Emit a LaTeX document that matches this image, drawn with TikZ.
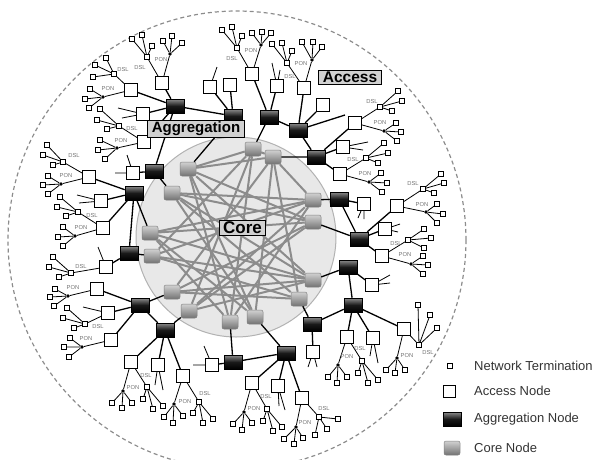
\documentclass[tikz,border=0pt]{standalone}
\usepackage{fontspec}
\setsansfont{Liberation Sans}
\pgfdeclarelayer{back}
\pgfdeclarelayer{bg}
\pgfsetlayers{back,bg,main}
\tikzset{
  acc/.style={draw, fill=white, minimum size=13pt, inner sep=0pt, line width=0.8pt},
  agg/.style={draw=black, minimum width=18pt, minimum height=14pt, inner sep=0pt, top color=black!45, bottom color=black, middle color=black!90, line width=0.5pt},
  corenode/.style={draw=black!50, rounded corners=2pt, minimum width=16pt, minimum height=14pt, inner sep=0pt, top color=black!18, bottom color=black!55, line width=0.5pt},
  nt/.style={draw, fill=white, minimum size=4.5pt, inner sep=0pt, line width=0.55pt},
  dslbox/.style={draw, fill=white, minimum size=5.5pt, inner sep=0pt, line width=0.55pt},
  pondot/.style={circle, fill=black, minimum size=3.8pt, inner sep=0pt},
  tag/.style={font=\sffamily\fontsize{5.8}{6}\selectfont, text=black!55, inner sep=0pt},
  tl/.style={line width=0.8pt},
  al/.style={line width=1.3pt},
  mesh/.style={line width=2pt, draw=black!45},
  bigtag/.style={draw=black, line width=0.8pt, fill=black!18, font=\sffamily\bfseries\fontsize{#1}{#1}\selectfont, inner xsep=4pt, inner ysep=1.5pt},
  legtext/.style={anchor=west, font=\sffamily\fontsize{13}{15}\selectfont, text=black!80, inner sep=0pt}
}
\newcommand\ntfan[4]{%
  \node[nt] (#1a) at #2 {}; \node[nt] (#1b) at #3 {}; \node[nt] (#1c) at #4 {};
  \draw[tl] (#1) -- (#1a) (#1) -- (#1b) (#1) -- (#1c);}
\newcommand\dslat[4]{%
  \node[dslbox] (#1) at #2 {}; \draw[tl] (#3) -- (#1); \node[tag] (#1t) at #4 {DSL};}
\newcommand\ponat[4]{%
  \node[pondot] (#1) at #2 {}; \draw[tl] (#3) -- (#1); \node[tag] (#1t) at #4 {PON};}
\begin{document}
\begin{tikzpicture}[x=1pt,y=-1pt]
\useasboundingbox (0,0) rectangle (603,459);
\begin{pgfonlayer}{back}
  \fill[black!9] (236,237) circle[radius=100];
  \draw[black!30, line width=1pt] (236,237) circle[radius=100];
  \begin{scope}
    \clip (0,0) rectangle (603,459);
    \draw[black!45, line width=1.2pt, dash pattern=on 4pt off 3pt] (237,240) circle[radius=229];
  \end{scope}
\end{pgfonlayer}

% core nodes
\node[corenode] (c1) at (253,149) {};
\node[corenode] (c2) at (273,157) {};
\node[corenode] (c3) at (188,169) {};
\node[corenode] (c4) at (172,193) {};
\node[corenode] (c5) at (313,200) {};
\node[corenode] (c6) at (313,222) {};
\node[corenode] (c7) at (150,233) {};
\node[corenode] (c8) at (152,256) {};
\node[corenode] (c9) at (313,280) {};
\node[corenode] (c10) at (299,299) {};
\node[corenode] (c11) at (172,292) {};
\node[corenode] (c12) at (189,311) {};
\node[corenode] (c13) at (230,322) {};
\node[corenode] (c14) at (255,317) {};

\begin{pgfonlayer}{bg}
\foreach \a/\b in {c1/c2, c1/c3, c2/c3, c1/c12, c1/c13, c1/c8, c2/c5, c2/c14, c2/c10, c2/c11,
  c3/c6, c3/c9, c3/c13, c4/c5, c4/c6, c4/c10, c4/c14, c5/c7, c5/c8, c5/c12, c6/c7, c6/c11,
  c7/c9, c7/c14, c8/c9, c8/c10, c9/c11, c9/c12, c10/c11, c13/c5, c13/c7, c14/c3, c6/c12, c4/c9}
  \draw[mesh] (\a) -- (\b);
\end{pgfonlayer}

% aggregation nodes
\node[agg] (g1) at (175,106) {};
\node[agg] (g2) at (233,116) {};
\node[agg] (g3) at (269,117) {};
\node[agg] (g4) at (298,130) {};
\node[agg] (g5) at (316,157) {};
\node[agg] (g6) at (154,171) {};
\node[agg] (g7) at (134,193) {};
\node[agg] (g8) at (129,253) {};
\node[agg] (g9) at (140,305) {};
\node[agg] (g10) at (165,330) {};
\node[agg] (g11) at (233,362) {};
\node[agg] (g12) at (286,353) {};
\node[agg] (g13) at (312,324) {};
\node[agg] (g14) at (353,305) {};
\node[agg] (g15) at (339,199) {};
\node[agg] (g16) at (359,239) {};
\node[agg] (g17) at (348,267) {};

\draw[al] (g1)--(g2) (g1)--(g6) (g2)--(c3) (g3)--(c1) (g3)--(g4) (g4)--(g5) (g5)--(c2)
  (g6)--(c4) (g7)--(c7) (g7)--(g8) (g8)--(c8) (g9)--(c11) (g9)--(g10) (g10)--(c12)
  (g11)--(c13) (g11)--(g12) (g12)--(c14) (g13)--(c10) (g13)--(g14) (g14)--(g17) (g17)--(c9)
  (g15)--(c5) (g15)--(g16) (g16)--(c6);

% access nodes
\node[acc] (x1) at (162,83) {};
\node[acc] (x2) at (131,90) {};
\node[acc] (x3) at (143,114) {};
\node[acc] (x4) at (144,142) {};
\node[acc] (x5) at (210,87) {};
\node[acc] (x6) at (230,85) {};
\node[acc] (x7) at (252,74) {};
\node[acc] (x8) at (277,86) {};
\node[acc] (x9) at (304,88) {};
\node[acc] (x10) at (323,105) {};
\node[acc] (x11) at (355,123) {};
\node[acc] (x12) at (343,147) {};
\node[acc] (x13) at (340,174) {};
\node[acc] (x14) at (364,204) {};
\node[acc] (x15) at (397,206) {};
\node[acc] (x16) at (385,229) {};
\node[acc] (x17) at (382,256) {};
\node[acc] (x18) at (372,285) {};
\node[acc] (x19) at (347,337) {};
\node[acc] (x20) at (373,338) {};
\node[acc] (x21) at (404,329) {};
\node[acc] (x22) at (313,352) {};
\node[acc] (x23) at (252,383) {};
\node[acc] (x24) at (278,386) {};
\node[acc] (x25) at (302,398) {};
\node[acc] (x26) at (212,365) {};
\node[acc] (x27) at (131,362) {};
\node[acc] (x28) at (158,365) {};
\node[acc] (x29) at (183,376) {};
\node[acc] (x30) at (97,289) {};
\node[acc] (x31) at (108,313) {};
\node[acc] (x32) at (111,340) {};
\node[acc] (x33) at (106,267) {};
\node[acc] (x34) at (89,177) {};
\node[acc] (x35) at (101,201) {};
\node[acc] (x36) at (103,228) {};
\node[acc] (x37) at (133,173) {};

\draw[al] (g1)--(x1) (g1)--(x2) (g1)--(x3) (g1)--(x4) (g2)--(x5) (g2)--(x6)
  (g3)--(x7) (g3)--(x8) (g4)--(x9) (g4)--(x10) (g4)-- +(47,-15)
  (g5)--(x11) (g5)--(x12) (g5)--(x13) (g15)--(x14) (g16)--(x15) (g16)--(x16) (g16)--(x17)
  (g17)--(x18) (g14)--(x19) (g14)--(x20) (g14)--(x21) (g13)--(x22)
  (g12)--(x23) (g12)--(x24) (g12)--(x25) (g11)--(x26) (g10)--(x27) (g10)--(x28) (g10)--(x29)
  (g9)--(x30) (g9)--(x31) (g9)--(x32) (g8)--(x33) (g7)--(x34) (g7)--(x35) (g7)--(x36) (g6)--(x37);

% stubs
\draw[tl] (x3) -- +(-25,-6) (x3) -- +(-21,4)
  (x35) -- +(-24,-6) (x35) -- +(-22,2)
  (x37) -- +(-6,-18) (x37) -- +(-18,0)
  (x33) -- +(-8,-20) (x31) -- +(-25,-6)
  (x28) -- +(5,25) (x28) -- +(-3,20)
  (x26) -- +(-19,0) (x26) -- +(-8,-19)
  (x24) -- +(7,24) (x24) -- +(1,20)
  (x22) -- +(-5,15) (x22) -- +(4,15)
  (x20) -- +(5,25) (x20) -- +(-3,18)
  (x18) -- +(18,-10) (x18) -- +(18,-2)
  (x16) -- +(15,-5) (x16) -- +(13,3)
  (x14) -- +(-6,14) (x14) -- +(0,15)
  (x12) -- +(25,-5) (x12) -- +(20,3)
  (x8) -- +(-5,-23) (x8) -- +(3,-16)
  (x5) -- +(7,-20);

% trees
\dslat{x1d}{(147,57)}{x1}{(140,67)} \ntfan{x1d}{(132,39)}{(142,35)}{(152,46)}
\ponat{x1p}{(170,54)}{x1}{(161,59)} \ntfan{x1p}{(163,41)}{(172,36)}{(182,43)}
\dslat{x2d}{(114,74)}{x2}{(123,69)} \ntfan{x2d}{(106,58)}{(95,65)}{(93,77)}
\ponat{x2p}{(103,97)}{x2}{(108,88)} \ntfan{x2p}{(90,89)}{(85,99)}{(89,108)}
\dslat{x4d}{(119,126)}{x4}{(132,128)} \ntfan{x4d}{(100,109)}{(97,120)}{(107,129)}
\ponat{x4p}{(117,148)}{x4}{(121,140)} \ntfan{x4p}{(100,140)}{(98,150)}{(105,159)}
\dslat{x34d}{(63,162)}{x34}{(74,155)} \ntfan{x34d}{(47,145)}{(43,155)}{(53,165)}
\ponat{x34p}{(61,184)}{x34}{(66,175)} \ntfan{x34p}{(48,176)}{(43,185)}{(48,194)}
\dslat{x36d}{(78,212)}{x36}{(92,215)} \ntfan{x36d}{(60,197)}{(57,207)}{(66,216)}
\ponat{x36p}{(75,236)}{x36}{(81,227)} \ntfan{x36p}{(63,227)}{(58,237)}{(63,246)}
\dslat{x33d}{(71,273)}{x33}{(81,266)} \ntfan{x33d}{(53,257)}{(49,267)}{(59,277)}
\ponat{x30p}{(68,296)}{x30}{(73,287)} \ntfan{x30p}{(55,289)}{(50,297)}{(54,306)}
\dslat{x31d}{(85,324)}{x31}{(98,326)} \ntfan{x31d}{(67,308)}{(63,318)}{(74,328)}
\ponat{x32p}{(82,347)}{x32}{(86,338)} \ntfan{x32p}{(70,338)}{(64,347)}{(69,357)}
\ponat{x27p}{(123,391)}{x27}{(133,387)} \ntfan{x27p}{(112,403)}{(122,408)}{(132,403)}
\dslat{x27d}{(147,387)}{x27}{(146,375)} \ntfan{x27d}{(143,399)}{(153,409)}{(163,406)}
\ponat{x29p}{(174,404)}{x29}{(185,401)} \ntfan{x29p}{(164,417)}{(173,423)}{(183,416)}
\dslat{x29d}{(199,402)}{x29}{(205,393)} \ntfan{x29d}{(193,413)}{(203,423)}{(213,419)}
\ponat{x23p}{(244,412)}{x23}{(254,408)} \ntfan{x23p}{(233,424)}{(242,430)}{(252,423)}
\dslat{x23d}{(267,409)}{x23}{(266,396)} \ntfan{x23d}{(263,421)}{(273,431)}{(282,427)}
\ponat{x25p}{(296,427)}{x25}{(305,422)} \ntfan{x25p}{(284,439)}{(294,444)}{(303,438)}
\dslat{x25d}{(319,417)}{x25}{(324,408)} \ntfan{x25d}{(315,435)}{(327,429)}{(338,419)}
\ponat{x19p}{(338,365)}{x19}{(347,356)} \ntfan{x19p}{(328,377)}{(337,383)}{(347,377)}
\dslat{x19d}{(362,361)}{x19}{(360,348)} \ntfan{x19d}{(358,373)}{(368,383)}{(378,380)}
\ponat{x21p}{(397,358)}{x21}{(407,355)} \ntfan{x21p}{(386,370)}{(395,373)}{(405,370)}
\dslat{x21d}{(419,345)}{x21}{(428,352)} \ntfan{x21d}{(418,305)}{(430,315)}{(437,328)}
\dslat{x17d}{(408,240)}{x17}{(396,243)} \ntfan{x17d}{(424,229)}{(431,238)}{(424,248)}
\ponat{x17p}{(411,264)}{x17}{(405,254)} \ntfan{x17p}{(423,256)}{(428,265)}{(423,274)}
\dslat{x15d}{(423,189)}{x15}{(413,183)} \ntfan{x15d}{(441,174)}{(444,183)}{(434,193)}
\ponat{x15p}{(426,212)}{x15}{(422,204)} \ntfan{x15p}{(437,204)}{(443,214)}{(437,223)}
\dslat{x11d}{(380,107)}{x11}{(372,101)} \ntfan{x11d}{(398,91)}{(402,101)}{(392,111)}
\ponat{x11p}{(384,131)}{x11}{(380,122)} \ntfan{x11p}{(396,123)}{(401,132)}{(397,141)}
\dslat{x13d}{(366,158)}{x13}{(353,159)} \ntfan{x13d}{(384,143)}{(388,153)}{(378,163)}
\ponat{x13p}{(369,182)}{x13}{(365,173)} \ntfan{x13p}{(381,173)}{(387,183)}{(382,192)}
\dslat{x9d}{(287,63)}{x9}{(290,76)} \ntfan{x9d}{(272,44)}{(282,43)}{(292,51)}
\ponat{x9p}{(312,60)}{x9}{(301,63)} \ntfan{x9p}{(302,42)}{(313,42)}{(322,47)}
\dslat{x7d}{(237,48)}{x7}{(232,58)} \ntfan{x7d}{(222,30)}{(232,27)}{(242,36)}
\ponat{x7p}{(261,45)}{x7}{(251,50)} \ntfan{x7p}{(252,33)}{(262,32)}{(271,33)}

% labels
\node[bigtag=15] (laggr) at (196,128.5) {Aggregation};
\node[bigtag=17] (lcore) at (242.5,227.5) {Core};
\node[bigtag=15.5] (lacc) at (350,77) {Access};

% legend
\node[nt] (lnt) at (450,366) {};
\node[legtext] (lntt) at (474,366) {Network Termination};
\node[acc, minimum size=12pt] (lac) at (449,391) {};
\node[legtext] (lact) at (474,391) {Access Node};
\node[agg] (lag) at (452,419) {};
\node[legtext] (lagt) at (474,419) {Aggregation Node};
\node[corenode] (lco) at (452,448) {};
\node[legtext] (lcot) at (474,448) {Core Node};
\end{tikzpicture}
\end{document}
